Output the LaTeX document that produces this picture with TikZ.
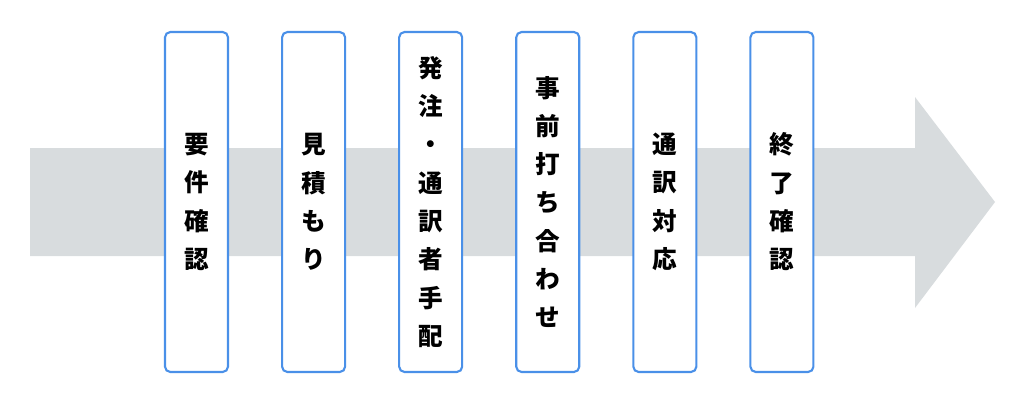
\documentclass[tikz,border=0pt]{standalone}
\usepackage{fontspec}
\newfontfamily\cjk{Noto Sans CJK JP}
\usetikzlibrary{positioning}
\definecolor{flowgray}{RGB}{216, 220, 222}
\definecolor{stepblue}{RGB}{74, 144, 232}

\tikzset{
    stepbox/.style={draw=stepblue, line width=1.2pt, fill=white, rounded corners=3pt,
        minimum width=1.26cm, minimum height=6.8cm, inner sep=0pt,
        align=center, font=\cjk\bfseries\fontsize{14}{21.8}\selectfont}
}

\begin{document}
\begin{tikzpicture}[x=0.02cm, y=-0.02cm]
    % Rahmen
    \useasboundingbox (0,0) rectangle (1024,403);
    
    % Grosser Pfeil im Hintergrund
    \fill[flowgray] (30,148) -- (915,148) -- (915,97) -- (995,202)
        -- (915,308) -- (915,256) -- (30,256) -- cycle;
    
    % Schritte
    \node[stepbox] (yoken) at (196.5,202) {要\\件\\確\\認};
    \node[stepbox, right=1.04cm of yoken] (mitsumori) {見\\積\\も\\り};
    \node[stepbox, right=1.04cm of mitsumori] (hatchu) {発\\注\\・\\通\\訳\\者\\手\\配};
    \node[stepbox, right=1.04cm of hatchu] (uchiawase) {事\\前\\打\\ち\\合\\わ\\せ};
    \node[stepbox, right=1.04cm of uchiawase] (taio) {通\\訳\\対\\応};
    \node[stepbox, right=1.04cm of taio] (shuryo) {終\\了\\確\\認};
\end{tikzpicture}
\end{document}
